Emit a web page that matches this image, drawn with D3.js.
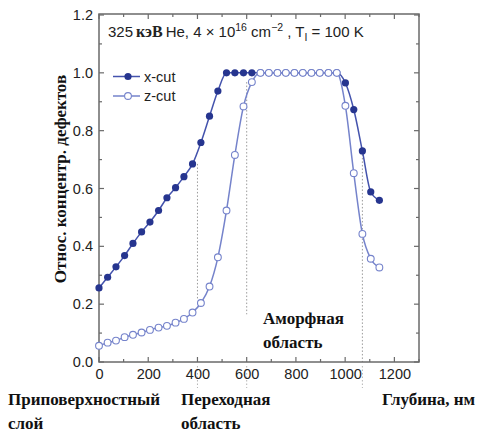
<!DOCTYPE html>
<html><head><meta charset="utf-8">
<script src="https://cdn.jsdelivr.net/npm/d3@7"></script>
<style>body{margin:0;background:#fff}svg{display:block}</style>
</head><body>
<svg id="c" width="480" height="434"></svg>
<script>
const depth = [0,35,69,104,138,173,207,242,276,311,345,380,414,449,483,518,552,587,621,656,690,725,759,794,828,863,897,932,966,1001,1035,1070,1104,1139];
const xcut = [0.256,0.293,0.329,0.368,0.410,0.450,0.484,0.524,0.568,0.603,0.641,0.685,0.759,0.850,0.937,1.0,1.0,1.0,1.0,1.0,1.0,1.0,1.0,1.0,1.0,1.0,1.0,1.0,1.0,0.965,0.873,0.730,0.588,0.559];
const zcut = [0.056,0.067,0.074,0.086,0.094,0.102,0.111,0.119,0.125,0.136,0.149,0.171,0.204,0.261,0.362,0.524,0.716,0.884,0.968,1.0,1.0,1.0,1.0,1.0,1.0,1.0,1.0,1.0,1.0,0.886,0.653,0.443,0.357,0.327];
const xTicks = [0,200,400,600,800,1000,1200];
const yTicks = [0.0,0.2,0.4,0.6,0.8,1.0,1.2];
const seriesNames = ["x-cut","z-cut"];
// dotted guide lines: [depth, top value, bottom value]
const guides = [[400,0.685,0.215],[600,0.968,0.165],[1070,0.730,0.0]];

const svg = d3.select("#c");
const L=99, R=419, T=14, B=362;
const x = d3.scaleLinear().domain([0,1300]).range([L,R]);
const y = d3.scaleLinear().domain([0,1.2]).range([B,15]);
const sans = "'Liberation Sans', Arial, Helvetica, sans-serif";
const serif = "'Liberation Serif', 'Times New Roman', serif";
const frameCol = "#6a6a6a";

// guides
const g0 = svg.append("g");
guides.forEach(([d,v1,v2])=>{
  g0.append("line").attr("x1",x(d)).attr("x2",x(d)).attr("y1",y(v1)).attr("y2",y(v2))
    .attr("stroke","#9a9a9a").attr("stroke-width",1).attr("stroke-dasharray","1.5,2");
  g0.append("line").attr("x1",x(d)).attr("x2",x(d)).attr("y1",B+4).attr("y2",B+26)
    .attr("stroke","#b5b5b5").attr("stroke-width",1).attr("stroke-dasharray","1.5,2");
});

// axes
const xMinor = d3.range(0,1301,100), yMinor = d3.range(0,1.21,0.1);
const ax = svg.append("g").attr("stroke",frameCol).attr("stroke-width",1.2);
xMinor.forEach(v=>{
  const len = (Math.round(v)%200===0)?5:3;
  ax.append("line").attr("x1",x(v)).attr("x2",x(v)).attr("y1",B).attr("y2",B-len);
  ax.append("line").attr("x1",x(v)).attr("x2",x(v)).attr("y1",T).attr("y2",T+len);
});
yMinor.forEach(v=>{
  const len = (Math.round(v*10)%2===0)?5:3;
  ax.append("line").attr("x1",L).attr("x2",L+len).attr("y1",y(v)).attr("y2",y(v));
  ax.append("line").attr("x1",R).attr("x2",R-len).attr("y1",y(v)).attr("y2",y(v));
});
svg.append("rect").attr("x",L).attr("y",T).attr("width",R-L).attr("height",B-T)
  .attr("fill","none").attr("stroke",frameCol).attr("stroke-width",1.5);

const xa = svg.append("g").attr("transform",`translate(0,${B})`)
  .call(d3.axisBottom(x).tickValues(xTicks).tickSize(0).tickPadding(7).tickFormat(d3.format("d")));
xa.select(".domain").remove();
xa.selectAll("text").attr("font-family",sans).attr("font-size",14.5).attr("fill","#222");
const ya = svg.append("g").attr("transform",`translate(${L},0)`)
  .call(d3.axisLeft(y).tickValues(yTicks).tickSize(0).tickPadding(6).tickFormat(d3.format(".1f")));
ya.select(".domain").remove();
ya.selectAll("text").attr("font-family",sans).attr("font-size",14.5).attr("fill","#222");

// series
const data = depth.map((d,i)=>({d, a:xcut[i], b:zcut[i]}));
const lineA = d3.line().x(p=>x(p.d)).y(p=>y(p.a)).curve(d3.curveMonotoneX);
const lineB = d3.line().x(p=>x(p.d)).y(p=>y(p.b)).curve(d3.curveMonotoneX);
const colA = "#4453ad", colB = "#7583cb", mkA = "#26358f";
svg.append("path").datum(data).attr("d",lineA).attr("fill","none").attr("stroke",colA).attr("stroke-width",1.5);
svg.append("g").selectAll("circle").data(data).join("circle")
  .attr("cx",p=>x(p.d)).attr("cy",p=>y(p.a)).attr("r",3.6).attr("fill",mkA);
svg.append("path").datum(data).attr("d",lineB).attr("fill","none").attr("stroke",colB).attr("stroke-width",1.5);
svg.append("g").selectAll("circle").data(data).join("circle")
  .attr("cx",p=>x(p.d)).attr("cy",p=>y(p.b)).attr("r",3.4).attr("fill","#fff").attr("stroke",colB).attr("stroke-width",1.1);

// legend
const leg = svg.append("g");
[[76.5,colA,true],[96,colB,false]].forEach(([ly,c,filled],i)=>{
  leg.append("line").attr("x1",113).attr("x2",140).attr("y1",ly).attr("y2",ly).attr("stroke",c).attr("stroke-width",1.5);
  leg.append("circle").attr("cx",128).attr("cy",ly).attr("r",filled?3.6:3.4)
    .attr("fill",filled?mkA:"#fff").attr("stroke",filled?"none":c).attr("stroke-width",1.1);
  leg.append("text").attr("x",144).attr("y",ly+5).text(seriesNames[i])
    .attr("font-family",sans).attr("font-size",14.5).attr("fill","#222");
});

// title
const tt = svg.append("text").attr("x",108).attr("y",37).attr("font-family",sans).attr("font-size",15).attr("fill","#222");
tt.append("tspan").text("325\u2009");
tt.append("tspan").text("кэВ").attr("font-family",serif).attr("font-weight","bold").attr("font-size",16);
tt.append("tspan").text("\u2009He, 4 × 10");
tt.append("tspan").text("16").attr("font-size",10.5).attr("dy",-6);
tt.append("tspan").text(" cm").attr("dy",6);
tt.append("tspan").text("−2").attr("font-size",10.5).attr("dy",-6);
tt.append("tspan").text(" , T").attr("dy",6);
tt.append("tspan").text("I").attr("font-size",10.5).attr("dy",4);
tt.append("tspan").text(" = 100 K").attr("dy",-4);

// y label
svg.append("text").attr("transform","translate(66,179) rotate(-90)").attr("text-anchor","middle")
  .attr("font-family",serif).attr("font-weight","bold").attr("font-size",17).attr("fill","#111")
  .text("Относ. концентр. дефектов");

// annotations
const ann = [["Приповерхностный",8,405],["слой",8,429],["Переходная",181,405],["область",181,429],
             ["Глубина, нм",382,405],["Аморфная",263,324],["область",263,348]];
svg.append("g").selectAll("text").data(ann).join("text")
  .attr("x",a=>a[1]).attr("y",a=>a[2]).text(a=>a[0])
  .attr("font-family",serif).attr("font-weight","bold").attr("font-size",17).attr("fill","#111");
</script>
</body></html>
